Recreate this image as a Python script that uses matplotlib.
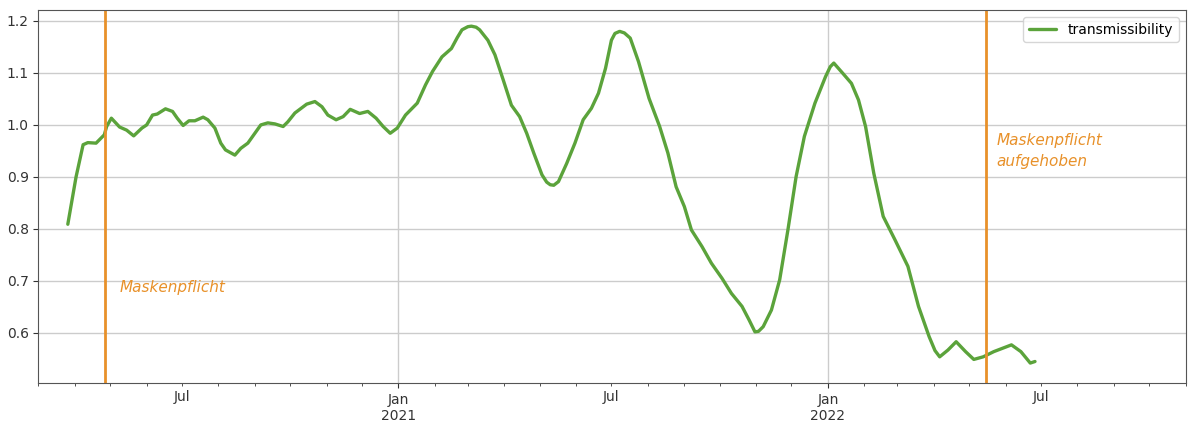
import matplotlib
matplotlib.use("Agg")
import matplotlib.pyplot as plt
import matplotlib.dates as mdates
import matplotlib.ticker as mticker
import pandas as pd

# values
dates = [
    "2020-03-26", "2020-04-02", "2020-04-08", "2020-04-12", "2020-04-19", "2020-04-26",
    "2020-04-28", "2020-05-02", "2020-05-09", "2020-05-15", "2020-05-21", "2020-05-28",
    "2020-06-01", "2020-06-06", "2020-06-10", "2020-06-17", "2020-06-23", "2020-06-27",
    "2020-07-02", "2020-07-07", "2020-07-12", "2020-07-19", "2020-07-23", "2020-07-29",
    "2020-08-03", "2020-08-07", "2020-08-15", "2020-08-20", "2020-08-26", "2020-09-01",
    "2020-09-06", "2020-09-12", "2020-09-18", "2020-09-25", "2020-09-29", "2020-10-05",
    "2020-10-15", "2020-10-22", "2020-10-28", "2020-11-02", "2020-11-09", "2020-11-15",
    "2020-11-21", "2020-11-29", "2020-12-06", "2020-12-13", "2020-12-19", "2020-12-25",
    "2020-12-31", "2021-01-07", "2021-01-17", "2021-01-24", "2021-01-30", "2021-02-07",
    "2021-02-15", "2021-02-20", "2021-02-24", "2021-03-01", "2021-03-04", "2021-03-08",
    "2021-03-11", "2021-03-18", "2021-03-24",
    "2021-03-31", "2021-04-07", "2021-04-14", "2021-04-20", "2021-04-26", "2021-05-03",
    "2021-05-07", "2021-05-10", "2021-05-13", "2021-05-17", "2021-05-24", "2021-05-31",
    "2021-06-07", "2021-06-14",
    "2021-06-20", "2021-06-26", "2021-07-01", "2021-07-04", "2021-07-08", "2021-07-12",
    "2021-07-17", "2021-07-24",
    "2021-08-02", "2021-08-11", "2021-08-18", "2021-08-25", "2021-09-01", "2021-09-07",
    "2021-09-16", "2021-09-24", "2021-10-03", "2021-10-11", "2021-10-20", "2021-10-26",
    "2021-10-31", "2021-11-03", "2021-11-07", "2021-11-14", "2021-11-21", "2021-11-28",
    "2021-12-05", "2021-12-12", "2021-12-21", "2021-12-30", "2022-01-03", "2022-01-06",
    "2022-01-13", "2022-01-21", "2022-01-27", "2022-02-02", "2022-02-09", "2022-02-17",
    "2022-02-27", "2022-03-10", "2022-03-19", "2022-03-28", "2022-04-02", "2022-04-06",
    "2022-04-13", "2022-04-20", "2022-04-28", "2022-05-05", "2022-05-13", "2022-05-22",
    "2022-05-29", "2022-06-06", "2022-06-14", "2022-06-22", "2022-06-26",
]
transmissibility = [
    0.809, 0.900, 0.962, 0.966, 0.965, 0.981,
    0.997, 1.013, 0.996, 0.990, 0.979, 0.994,
    1.000, 1.019, 1.021, 1.031, 1.026, 1.013,
    0.999, 1.008, 1.008, 1.015, 1.010, 0.994,
    0.965, 0.952, 0.942, 0.955, 0.965, 0.984,
    1.000, 1.004, 1.002, 0.997, 1.006, 1.023,
    1.040, 1.045, 1.035, 1.019, 1.010, 1.016,
    1.030, 1.022, 1.026, 1.013, 0.997, 0.984,
    0.994, 1.019, 1.042, 1.077, 1.103, 1.131,
    1.147, 1.168, 1.183, 1.189, 1.190, 1.188,
    1.183, 1.163, 1.135,
    1.087, 1.038, 1.016, 0.984, 0.946, 0.904,
    0.890, 0.885, 0.884, 0.891, 0.926, 0.965,
    1.010, 1.032,
    1.061, 1.109, 1.163, 1.176, 1.180, 1.177,
    1.167, 1.122,
    1.051, 0.997, 0.946, 0.881, 0.843, 0.798,
    0.766, 0.734, 0.705, 0.676, 0.651, 0.625,
    0.602, 0.603, 0.612, 0.644, 0.702, 0.798,
    0.901, 0.978, 1.042, 1.093, 1.112, 1.119,
    1.101, 1.080, 1.048, 0.997, 0.907, 0.824,
    0.779, 0.728, 0.651, 0.593, 0.566, 0.554,
    0.567, 0.583, 0.564, 0.549, 0.554, 0.564,
    0.570, 0.577, 0.564, 0.542, 0.545,
]

events = ["2020-04-27", "2022-05-15"]
event_labels = ["Maskenpflicht", "Maskenpflicht\naufgehoben"]

green = "#5ba33b"
orange = "#e8912a"

s = pd.Series(transmissibility, index=pd.to_datetime(dates))

fig = plt.figure(figsize=(12, 4.37), dpi=100)
ax = fig.add_axes([0.032, 0.124, 0.956, 0.853])

ax.plot(s.index, s.values, color=green, lw=2.4, label="transmissibility",
        solid_joinstyle="round", solid_capstyle="round")
for d in events:
    ax.axvline(pd.Timestamp(d), color=orange, lw=2.0)

ax.text(pd.Timestamp("2020-05-09"), 0.688, event_labels[0], color=orange,
        fontsize=11, style="italic", va="center", ha="left")
ax.text(pd.Timestamp("2022-05-24"), 0.985, event_labels[1], color=orange,
        fontsize=11, style="italic", va="top", ha="left", linespacing=1.5)

ax.set_xlim(pd.Timestamp("2020-03-01"), pd.Timestamp("2022-11-01"))
ax.set_ylim(0.504, 1.221)

# pandas style: years as major ticks, months as minor, only July labelled
ax.xaxis.set_major_locator(mdates.MonthLocator(bymonth=[1]))
ax.xaxis.set_minor_locator(mdates.MonthLocator(bymonth=[2, 3, 4, 5, 6, 7, 8, 9, 10, 11, 12]))
ax.xaxis.set_major_formatter(mticker.FuncFormatter(
    lambda x, pos=None: "Jan\n%d" % mdates.num2date(x).year))
ax.xaxis.set_minor_formatter(mticker.FuncFormatter(
    lambda x, pos=None: "Jul" if mdates.num2date(x).month == 7 else ""))
ax.yaxis.set_major_locator(mticker.MultipleLocator(0.1))
ax.yaxis.set_major_formatter(mticker.FormatStrFormatter("%.1f"))
ax.tick_params(which="both", labelsize=10, colors="#333333")
for sp in ax.spines.values():
    sp.set_color("#555555")

ax.grid(True, which="major", color="#cccccc", lw=1)
ax.legend(loc="upper right", fontsize=10)

fig.savefig("out.png", dpi=100)
